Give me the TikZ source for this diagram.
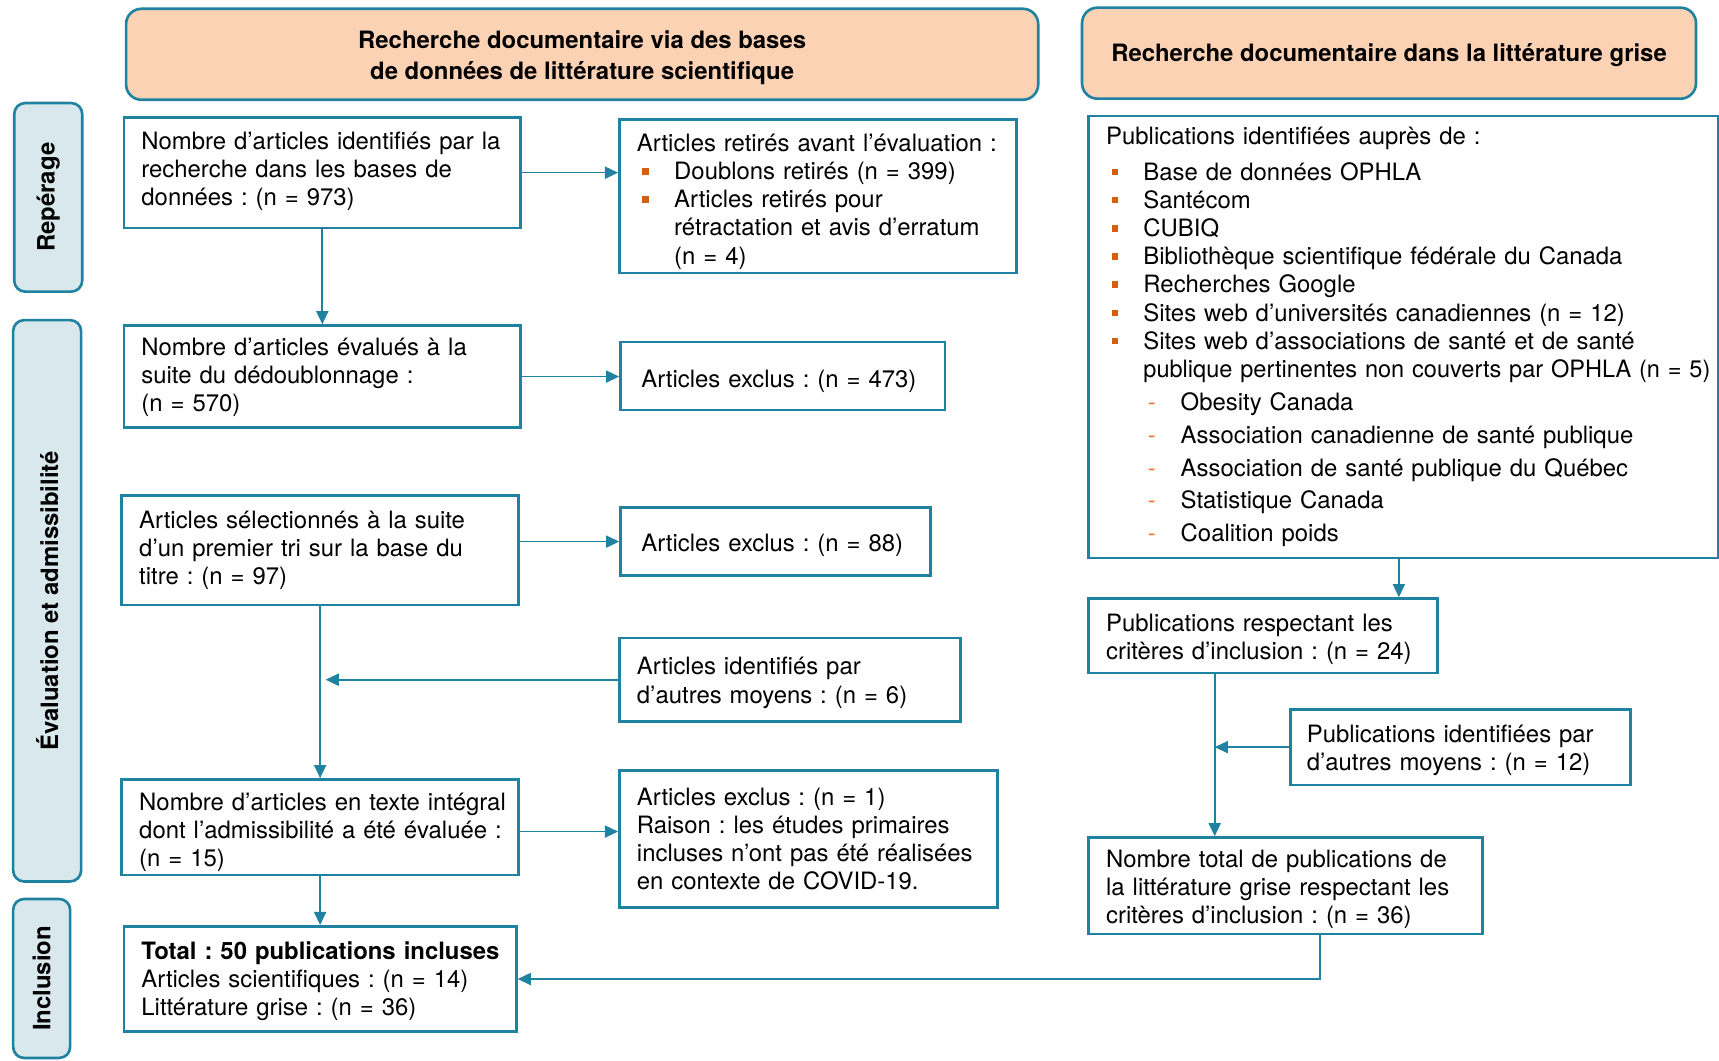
\documentclass[tikz,border=0pt]{standalone}
\usepackage{fontspec}
\usepackage{graphicx}
\setmainfont{TeX Gyre Heros}
\usetikzlibrary{arrows.meta}
\definecolor{tealc}{RGB}{30,130,160}
\definecolor{peach}{RGB}{252,210,180}
\definecolor{sidefill}{RGB}{216,232,237}
\definecolor{bulor}{RGB}{212,96,14}
\definecolor{dashor}{RGB}{236,120,50}
\frenchspacing
\newcommand\Ln[1]{\par\noindent\hbox{#1}}
\newcommand\Bl[1]{\par\noindent\hbox{\hspace*{5pt}\makebox[29pt][l]{\textcolor{bulor}{\raisebox{4.5pt}{\rule{6pt}{6pt}}}}#1}}
\newcommand\Cn[1]{\par\noindent\hbox{\hspace*{34pt}#1}}
\newcommand\Ds[1]{\par\vspace{4.3pt}\noindent\hbox{\hspace*{38pt}\makebox[30pt][l]{\textcolor{dashor}{-}}#1}}
\newcommand\Ed[1]{\par\kern#1pt}
\newcommand\Lw[2]{\raisebox{-#1pt}[\height][\depth]{#2}}
\begin{document}
\begin{tikzpicture}[x=1pt,y=1pt,
  font=\fontsize{21.8}{25.7}\selectfont\frenchspacing,
  box/.style={draw=tealc, line width=2.4pt, align=left, inner xsep=16pt, inner ysep=0pt},
  hdr/.style={draw=tealc, line width=2.4pt, fill=peach, rounded corners=14pt, align=center, inner sep=0pt, font=\fontsize{21.8}{28}\selectfont\bfseries\frenchspacing},
  side/.style={draw=tealc, line width=2.4pt, fill=sidefill, rounded corners=10pt, rotate=90, inner sep=0pt, font=\fontsize{21.8}{26}\selectfont\bfseries},
  arr/.style={draw=tealc, line width=1.5pt, -{Triangle[length=12pt,width=11pt]}},
  ln/.style={draw=tealc, line width=1.5pt}]
\useasboundingbox (0,0) rectangle (1568,-967);

% headers
\node[hdr, minimum width=832pt, minimum height=83pt] (h1) at (531,-49.5)
  {\Lw{3}{Recherche documentaire via des bases}\\\Lw{3}{de données de littérature scientifique}};
\node[hdr, minimum width=560pt, minimum height=83pt] (h2) at (1267,-48.5)
  {\Lw{2}{Recherche documentaire dans la littérature grise}};

% side labels
\node[side, minimum width=172pt, minimum height=62pt] (s1) at (44,-180) {Repérage};
\node[side, minimum width=512pt, minimum height=62pt] (s2) at (43,-548) {Évaluation et admissibilité};
\node[side, minimum width=145pt, minimum height=52pt] (s3) at (38,-892.5) {Inclusion};

% left column
\node[box, text width=330pt, minimum height=101pt] (b1) at (294,-157.5)
  {\Ln{Nombre d’articles identifiés par la}\Ln{recherche dans les bases de}\Ln{données : (n = 973)}\Ed{12}};
\node[box, text width=330pt, minimum height=93pt] (b2) at (294,-343.5)
  {\Ln{Nombre d’articles évalués à la}\Ln{suite du dédoublonnage :}\Ln{(n = 570)}\Ed{8}};
\node[box, text width=330pt, minimum height=100pt] (b3) at (292,-502)
  {\Ln{Articles sélectionnés à la suite}\Ln{d’un premier tri sur la base du}\Ln{titre : (n = 97)}\Ed{10}};
\node[box, text width=330pt, minimum height=87pt] (b4) at (292,-754.5)
  {\Ln{Nombre d’articles en texte intégral}\Ln{dont l’admissibilité a été évaluée :}\Ln{(n = 15)}};
\node[box, text width=326pt, minimum height=96pt] (b5) at (292,-893)
  {\Ln{\bfseries Total : 50 publications incluses}\Ln{Articles scientifiques : (n = 14)}\Ln{Littérature grise : (n = 36)}\Ed{6}};

% middle column
\node[box, text width=330pt, minimum height=140pt] (r1) at (746,-179)
  {\Ln{Articles retirés avant l’évaluation :}\Bl{Doublons retirés (n = 399)}\Bl{Articles retirés pour}\Cn{rétractation et avis d’erratum}\Cn{(n = 4)}};
\node[box, inner xsep=19pt, text width=258pt, minimum height=62pt] (r2) at (714,-343)
  {\Ln{Articles exclus : (n = 473)}};
\node[box, inner xsep=19pt, text width=245pt, minimum height=62pt] (r3) at (707.5,-494)
  {\Ln{Articles exclus : (n = 88)}\Ed{3}};
\node[box, text width=279pt, minimum height=76pt] (r4) at (720.5,-620)
  {\Ln{Articles identifiés par}\Ln{d’autres moyens : (n = 6)}\Ed{4}};
\node[box, text width=313pt, minimum height=125pt] (r5) at (737.5,-765.5)
  {\Ln{Articles exclus : (n = 1)}\Ln{Raison : les études primaires}\Ln{incluses n’ont pas été réalisées}\Ln{en contexte de COVID-19.}\Ed{10}};

% grey literature column
\node[box, text width=542pt, minimum height=401pt] (g1) at (1280,-307.5)
  {\Ln{Publications identifiées auprès de :}\vspace{7pt}%
   \Bl{Base de données OPHLA}\Bl{Santécom}\Bl{CUBIQ}%
   \Bl{Bibliothèque scientifique fédérale du Canada}\Bl{Recherches Google}%
   \Bl{Sites web d’universités canadiennes (n = 12)}%
   \Bl{Sites web d’associations de santé et de santé}%
   \Cn{\scalebox{0.985}[1]{publique pertinentes non couverts par OPHLA (n = 5)}}%
   \Ds{Obesity Canada}\Ds{Association canadienne de santé publique}%
   \Ds{Association de santé publique du Québec}\Ds{Statistique Canada}\Ds{Coalition poids}\Ed{10}};
\node[box, text width=286pt, minimum height=68pt] (g2) at (1152,-580)
  {\Ln{Publications respectant les}\Ln{critères d’inclusion : (n = 24)}\Ed{4}};
\node[box, inner xsep=15pt, text width=280pt, minimum height=69pt] (g3) at (1332,-681.5)
  {\Ln{Publications identifiées par}\Ln{d’autres moyens : (n = 12)}\Ed{4}};
\node[box, text width=327pt, minimum height=88pt] (g4) at (1172.5,-808)
  {\Ln{Nombre total de publications de}\Ln{la littérature grise respectant les}\Ln{critères d’inclusion : (n = 36)}\Ed{4}};

% junction coordinates
\coordinate (j1) at (297,-620);
\coordinate (j2) at (1108,-600);
\coordinate (j3) at (1204,-900);

% connectors
\draw[arr] (b1.east) -- (b1.east -| r1.west);
\draw[arr] (b1.south) -- (b2.north);
\draw[arr] (b2.east) -- (b2.east -| r2.west);
\draw[arr] (r3.west -| b3.east) -- (r3.west);
\draw[arr] (b3.south) -- (b4.north);
\draw[arr] (r4.west) -- (r4.west -| j1);
\draw[arr] ([yshift=-4pt]b4.east) -- ([yshift=-4pt]b4.east -| r5.west);
\draw[arr] (b4.south) -- (b5.north);
\draw[arr] (g1.south -| 1276,0) -- (g2.north -| 1276,0);
\draw[arr] (g2.south -| j2) -- (g4.north -| j2);
\draw[arr] (g3.west) -- (g3.west -| j2);
\draw[arr] (g4.south -| j3) |- (b5.east);
\end{tikzpicture}
\end{document}
